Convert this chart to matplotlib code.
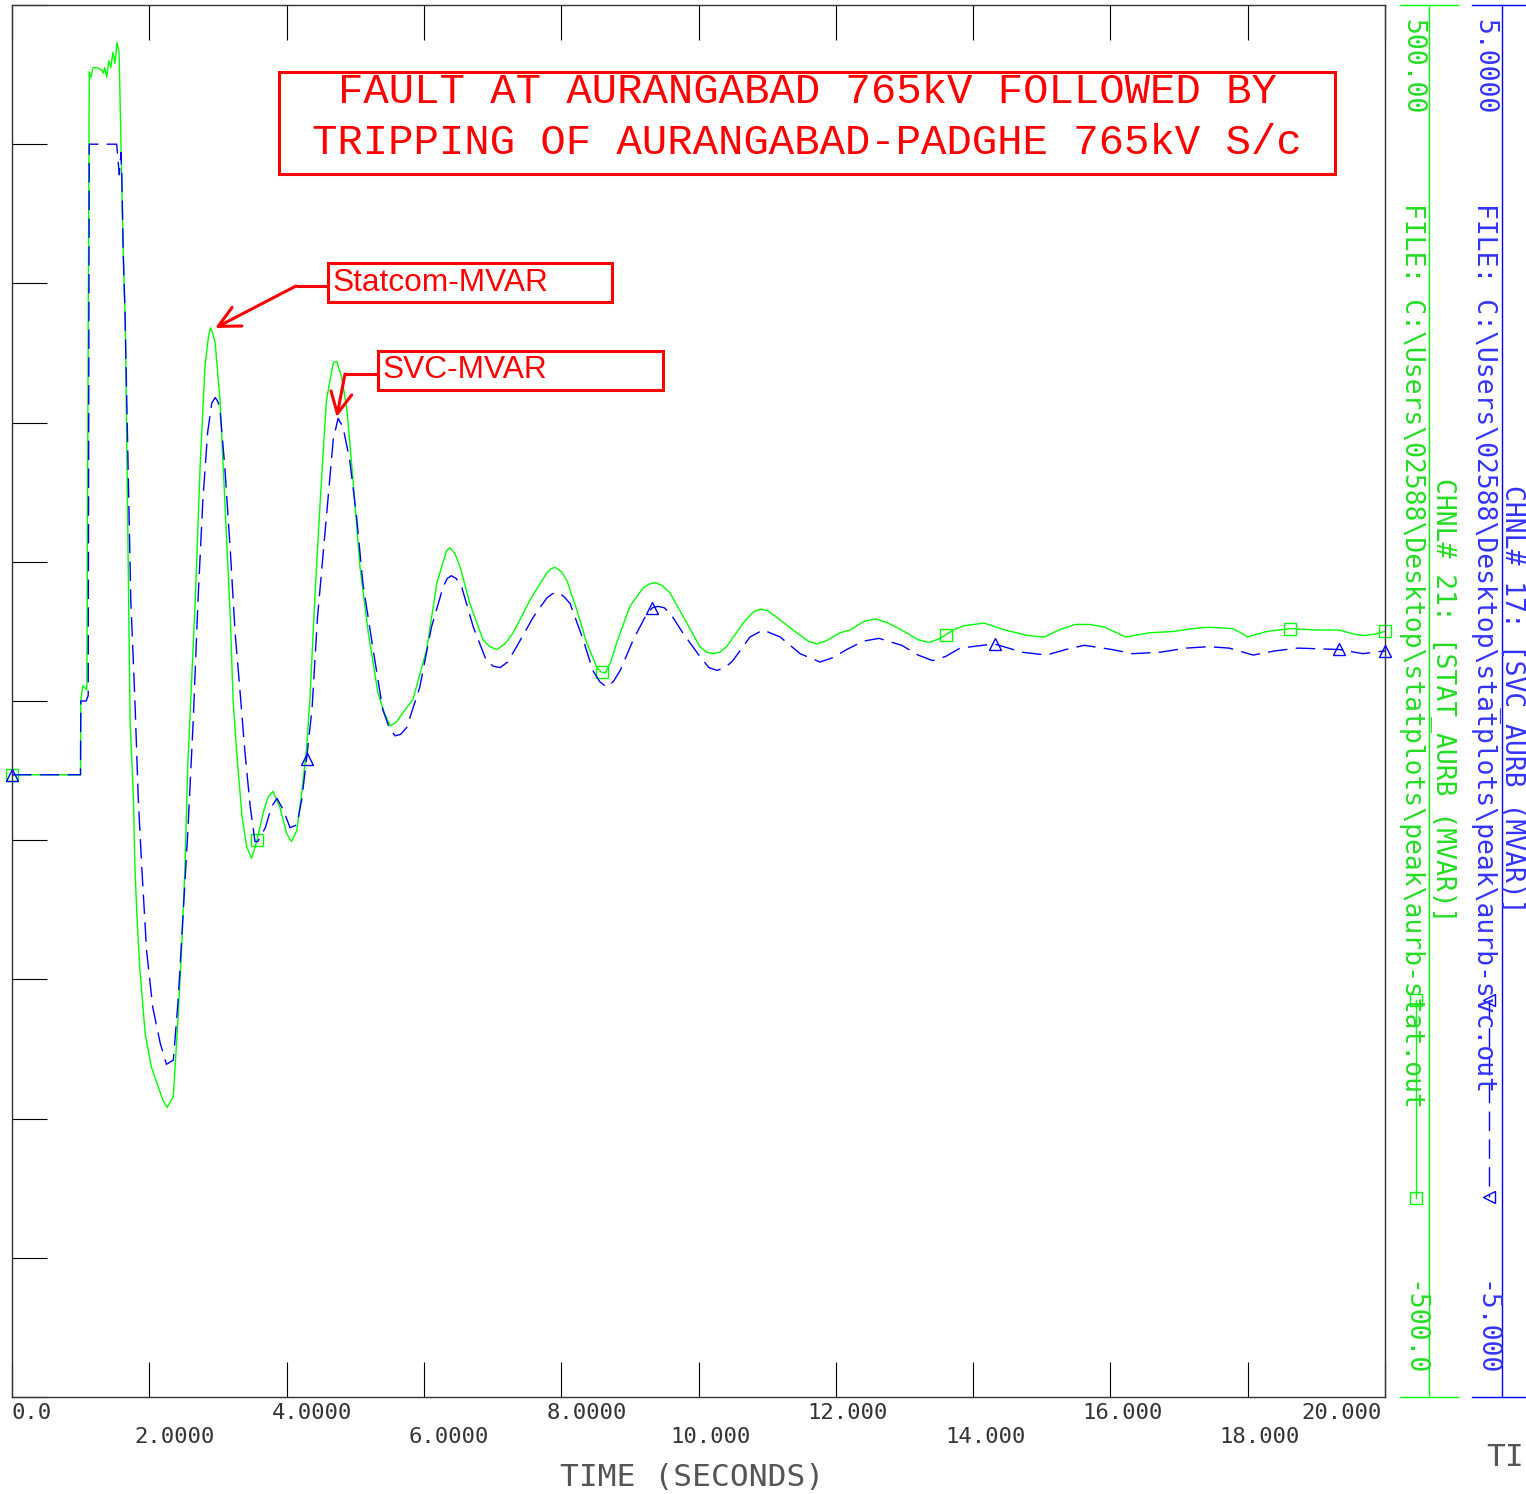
import numpy as np
import matplotlib
matplotlib.use('Agg')
import matplotlib.pyplot as plt
from matplotlib.patches import Rectangle
from matplotlib.transforms import blended_transform_factory, offset_copy

# ---- data ------------------------------------------------------------------
# STATCOM reactive power (time s, MVAR on left scale -500..500)
stat_pts = [
    (0.0, -53), (0.998, -53), (1.002, 0), (1.03, 11), (1.09, 8), (1.125, 452),
    (1.15, 448), (1.18, 455), (1.24, 455), (1.31, 453), (1.33, 451), (1.35, 455),
    (1.38, 448), (1.41, 460), (1.44, 455), (1.47, 466), (1.50, 458), (1.53, 473),
    (1.56, 466), (1.58, 417), (1.62, 322), (1.65, 274), (1.72, -14), (1.77, -71),
    (1.79, -119), (1.82, -155), (1.86, -191), (1.94, -239), (2.03, -263),
    (2.20, -287), (2.26, -292), (2.35, -284), (2.42, -227), (2.47, -179),
    (2.52, -119), (2.56, -47), (2.59, -14), (2.67, 73), (2.74, 168), (2.81, 240),
    (2.86, 261), (2.89, 268), (2.92, 265), (2.96, 257), (3.03, 216), (3.10, 144),
    (3.18, 60), (3.22, 1), (3.27, -35), (3.35, -83), (3.42, -105), (3.49, -113),
    (3.56, -102), (3.66, -80), (3.73, -69), (3.80, -65), (3.90, -76), (4.00, -95),
    (4.07, -101), (4.15, -93), (4.22, -66), (4.29, -35), (4.34, 1), (4.41, 73),
    (4.49, 144), (4.58, 216), (4.68, 243), (4.73, 244), (4.80, 233), (4.88, 209),
    (4.97, 157), (5.07, 96), (5.19, 49), (5.33, 6), (5.42, -8), (5.51, -18),
    (5.60, -15), (5.70, -8), (5.84, 1), (6.04, 37), (6.19, 85), (6.33, 108),
    (6.38, 110), (6.45, 106), (6.53, 96), (6.67, 70), (6.86, 44), (6.96, 39),
    (7.06, 37), (7.18, 41), (7.30, 49), (7.55, 73), (7.79, 92), (7.85, 95),
    (7.91, 96), (8.00, 93), (8.08, 87), (8.23, 65), (8.37, 42), (8.52, 24),
    (8.58, 21), (8.64, 20), (8.72, 28), (8.81, 42), (9.00, 68), (9.19, 81),
    (9.28, 84), (9.37, 85), (9.47, 83), (9.58, 78), (9.83, 56), (10.02, 39),
    (10.12, 35), (10.21, 34), (10.31, 35), (10.41, 39), (10.65, 56), (10.80, 64),
    (10.90, 66), (11.00, 65), (11.09, 62), (11.43, 49), (11.60, 43), (11.72, 41),
    (11.85, 43), (12.06, 49), (12.21, 51), (12.40, 57), (12.58, 59), (12.76, 56),
    (12.96, 51), (13.20, 44), (13.36, 42), (13.52, 45), (13.71, 51), (13.86, 54),
    (14.16, 56), (14.46, 51), (14.80, 47), (15.04, 46), (15.25, 51), (15.49, 55),
    (15.70, 55), (15.92, 53), (16.22, 46), (16.57, 49), (16.92, 50), (17.20, 52),
    (17.43, 53), (17.78, 52), (17.90, 49), (18.00, 46), (18.28, 50), (18.63, 52),
    (19.00, 51), (19.33, 51), (19.55, 48), (19.68, 47), (19.85, 48), (20.0, 50)]

# SVC reactive power (time s, right scale -5..5)
svc_pts = [
    (0.0, -0.53), (0.998, -0.53), (1.002, 0.0), (1.08, 0.0), (1.11, 0.04),
    (1.125, 4.0), (1.525, 4.0), (1.563, 3.78), (1.588, 3.94), (1.60, 3.76),
    (1.62, 3.22), (1.646, 2.79), (1.73, 0.73), (1.79, 0.01), (1.84, -0.71),
    (1.89, -1.19), (1.96, -1.79), (2.05, -2.20), (2.16, -2.46), (2.25, -2.61),
    (2.35, -2.58), (2.42, -2.15), (2.49, -1.55), (2.56, -0.95), (2.64, -0.14),
    (2.71, 0.73), (2.78, 1.44), (2.85, 1.93), (2.91, 2.14), (2.96, 2.18),
    (3.00, 2.15), (3.03, 2.09), (3.10, 1.68), (3.18, 1.08), (3.25, 0.49),
    (3.32, 0.08), (3.39, -0.35), (3.47, -0.76), (3.54, -1.01), (3.58, -1.01),
    (3.69, -0.91), (3.78, -0.76), (3.86, -0.70), (3.95, -0.78), (4.05, -0.91),
    (4.15, -0.89), (4.22, -0.71), (4.29, -0.42), (4.37, -0.06), (4.45, 0.60),
    (4.58, 1.32), (4.68, 1.88), (4.75, 2.03), (4.82, 1.97), (4.92, 1.73),
    (5.02, 1.32), (5.11, 0.85), (5.26, 0.37), (5.40, -0.06), (5.50, -0.20),
    (5.58, -0.25), (5.66, -0.24), (5.75, -0.19), (5.94, 0.10), (6.11, 0.53),
    (6.28, 0.82), (6.34, 0.88), (6.40, 0.90), (6.47, 0.88), (6.55, 0.82),
    (6.72, 0.53), (6.91, 0.29), (7.01, 0.25), (7.11, 0.24), (7.22, 0.28),
    (7.35, 0.39), (7.59, 0.60), (7.79, 0.74), (7.87, 0.77), (7.95, 0.78),
    (8.04, 0.75), (8.13, 0.70), (8.32, 0.44), (8.46, 0.22), (8.56, 0.14),
    (8.66, 0.10), (8.76, 0.14), (8.86, 0.22), (9.05, 0.44), (9.25, 0.63),
    (9.33, 0.67), (9.41, 0.68), (9.50, 0.67), (9.59, 0.63), (9.77, 0.49),
    (10.02, 0.32), (10.15, 0.24), (10.27, 0.22), (10.39, 0.24), (10.50, 0.29),
    (10.75, 0.46), (10.94, 0.51), (11.19, 0.46), (11.48, 0.34), (11.77, 0.28),
    (11.95, 0.31), (12.16, 0.37), (12.40, 0.43), (12.63, 0.45), (12.96, 0.40),
    (13.20, 0.33), (13.41, 0.29), (13.60, 0.32), (13.81, 0.38), (14.31, 0.41),
    (14.72, 0.35), (15.07, 0.33), (15.35, 0.37), (15.62, 0.40), (16.02, 0.37),
    (16.32, 0.34), (16.72, 0.35), (17.10, 0.38), (17.43, 0.39), (17.73, 0.38),
    (18.08, 0.33), (18.40, 0.36), (18.73, 0.38), (19.33, 0.37), (19.68, 0.34),
    (20.0, 0.36)]

stat_marker_t = [0.0, 3.57, 8.59, 13.60, 18.61, 20.0]
svc_marker_t = [0.0, 4.29, 9.32, 14.32, 19.33, 20.0]

x_ticks = [0, 2, 4, 6, 8, 10, 12, 14, 16, 18, 20]
x_tick_labels = ['0.0', '2.0000', '4.0000', '6.0000', '8.0000', '10.000',
                 '12.000', '14.000', '16.000', '18.000', '20.000']

title_lines = ['FAULT AT AURANGABAD 765kV FOLLOWED BY',
               'TRIPPING OF AURANGABAD-PADGHE 765kV S/c']
stat_file = 'FILE: C:\\Users\\02588\\Desktop\\statplots\\peak\\aurb-stat.out'
svc_file = 'FILE: C:\\Users\\02588\\Desktop\\statplots\\peak\\aurb-svc.out'
stat_chnl = 'CHNL# 21: [STAT_AURB (MVAR)]'
svc_chnl = 'CHNL# 17: [SVC_AURB (MVAR)]'
stat_tip = (2.96, 268)   # arrow tip, STATCOM peak
svc_tip = (4.73, 204)    # arrow tip, SVC peak (in left-scale units)

stat_t, stat_mvar = zip(*stat_pts)
svc_t, svc_mvar = zip(*svc_pts)

GREEN = '#00ff00'
GREEN_TXT = '#22dd22'
BLUE = '#0000ff'
BLUE_TXT = '#3333ff'
RED = '#ff0000'
MONO = 'DejaVu Sans Mono'

W, H = 1526, 1494
fig = plt.figure(figsize=(W / 100, H / 100), dpi=100)


def fx(px):
    return px / W


def fy(py):
    return 1 - py / H


ax = fig.add_axes([fx(12), fy(1397), fx(1385) - fx(12), fy(5) - fy(1397)])
ax.set_xlim(0, 20)
ax.set_ylim(-500, 500)
ax.set_xticks(x_ticks)
ax.set_yticks(np.arange(-500, 501, 100))
ax.tick_params(direction='in', length=25, width=0.8, color='black',
               top=True, right=True, labelbottom=False, labelleft=False)
for s in ax.spines.values():
    s.set_color('#333333')
    s.set_linewidth(1.0)

ax2 = ax.twinx()
ax2.set_ylim(-5, 5)
ax2.axis('off')

# curves
ax.plot(stat_t, stat_mvar, color=GREEN, lw=1.0)
ax.plot(stat_marker_t, np.interp(stat_marker_t, stat_t, stat_mvar), ls='none',
        marker='s', ms=8, mfc='none', mec=GREEN, mew=1.0, clip_on=False)
ax2.plot(svc_t, svc_mvar, color=BLUE, lw=1.0, dashes=(14, 6))
ax2.plot(svc_marker_t, np.interp(svc_marker_t, svc_t, svc_mvar), ls='none',
         marker='^', ms=8, mfc='none', mec=BLUE, mew=1.0, clip_on=False)

# staggered x tick labels
btr = blended_transform_factory(ax.transData, ax.transAxes)
for i, (xt, lab) in enumerate(zip(x_ticks, x_tick_labels)):
    dy = -16 if i % 2 == 0 else -40
    if i == 0:
        dx, ha = 0, 'left'
    elif i == len(x_ticks) - 1:
        dx, ha = -3, 'right'
    else:
        dx, ha = (-15 if xt < 10 else -28), 'left'
    tr = offset_copy(btr, fig=fig, x=dx, y=dy, units='dots')
    ax.text(xt, 0, lab, transform=tr, ha=ha, va='center', family=MONO,
            fontsize=16, color='#333333')

# overlay in pixel coords for decorations
ov = fig.add_axes([0, 0, 1, 1], zorder=5)
ov.set_xlim(0, W)
ov.set_ylim(H, 0)
ov.axis('off')
ov.patch.set_visible(False)

ov.text(692, 1477, 'TIME (SECONDS)', ha='center', va='center', family=MONO,
        fontsize=22.5, color='#555555')
ov.text(1524, 1458, 'TI', ha='right', va='center', family=MONO,
        fontsize=22.5, color='#555555')

# title box
ov.add_patch(Rectangle((279, 72), 1335 - 279, 174 - 72, fill=False, ec=RED, lw=2.2))
ov.text(807, 92, title_lines[0], ha='center', va='center', family='Liberation Mono',
        fontsize=30.5, color=RED)
ov.text(807, 143, title_lines[1], ha='center', va='center', family='Liberation Mono',
        fontsize=30.5, color=RED)

# annotation boxes and arrows
ov.add_patch(Rectangle((328, 263), 612 - 328, 302 - 263, fill=False, ec=RED, lw=2.2))
ov.text(333, 283, 'Statcom-MVAR', ha='left', va='center', family='Liberation Sans',
        fontsize=22.8, color=RED)
ov.plot([328, 296], [286, 286], color=RED, lw=2.2, solid_capstyle='butt')
ax.annotate('', xy=stat_tip, xytext=(296, 286), textcoords=ov.transData,
            arrowprops=dict(arrowstyle='->,head_length=0.4,head_width=0.2',
                            mutation_scale=38, color=RED, lw=2.2,
                            shrinkA=0, shrinkB=0))

ov.add_patch(Rectangle((378, 351), 663 - 378, 390 - 351, fill=False, ec=RED, lw=2.2))
ov.text(383, 370, 'SVC-MVAR', ha='left', va='center', family='Liberation Sans',
        fontsize=22.8, color=RED)
ov.plot([378, 345], [374, 374], color=RED, lw=2.2, solid_capstyle='butt')
ax.annotate('', xy=svc_tip, xytext=(345, 374), textcoords=ov.transData,
            arrowprops=dict(arrowstyle='->,head_length=0.4,head_width=0.2',
                            mutation_scale=38, color=RED, lw=2.2,
                            shrinkA=0, shrinkB=0))

# right-hand scale bars
ov.plot([1429, 1429], [5, 1397], color=GREEN, lw=1.0)
ov.plot([1400, 1458], [5, 5], color=GREEN, lw=1.0)
ov.plot([1400, 1458], [1397, 1397], color=GREEN, lw=1.0)
ov.plot([1502, 1502], [5, 1397], color=BLUE, lw=1.0)
ov.plot([1472, 1526], [5, 5], color=BLUE, lw=1.0)
ov.plot([1472, 1526], [1397, 1397], color=BLUE, lw=1.0)

# legend samples
ov.plot([1416, 1416], [1000, 1198], color=GREEN, lw=1.0, marker='s', ms=8,
        mfc='none', mec=GREEN)
ov.plot([1489, 1489], [1000, 1197], color=BLUE, lw=1.0, dashes=(14, 6))
ov.plot([1489, 1489], [1000, 1197], ls='none', marker='<', ms=8, mfc='none', mec=BLUE)

# rotated labels
rt = dict(rotation=-90, family=MONO, fontsize=19)
ov.text(1412, 19, '500.00', ha='center', va='top', color=GREEN_TXT, **rt)
ov.text(1412, 203, stat_file, ha='center', va='top', color=GREEN_TXT, **rt)
ov.text(1412, 1376, '-500.0', ha='center', va='bottom', color=GREEN_TXT, **rt)
ov.text(1443, 478, stat_chnl, ha='center', va='top', color=GREEN_TXT, **rt)
ov.text(1484, 19, '5.0000', ha='center', va='top', color=BLUE_TXT, **rt)
ov.text(1484, 203, svc_file, ha='center', va='top', color=BLUE_TXT, **rt)
ov.text(1484, 1376, '-5.000', ha='center', va='bottom', color=BLUE_TXT, **rt)
ov.text(1512, 485, svc_chnl, ha='center', va='top', color=BLUE_TXT, **rt)

fig.savefig('out.png', dpi=100)
